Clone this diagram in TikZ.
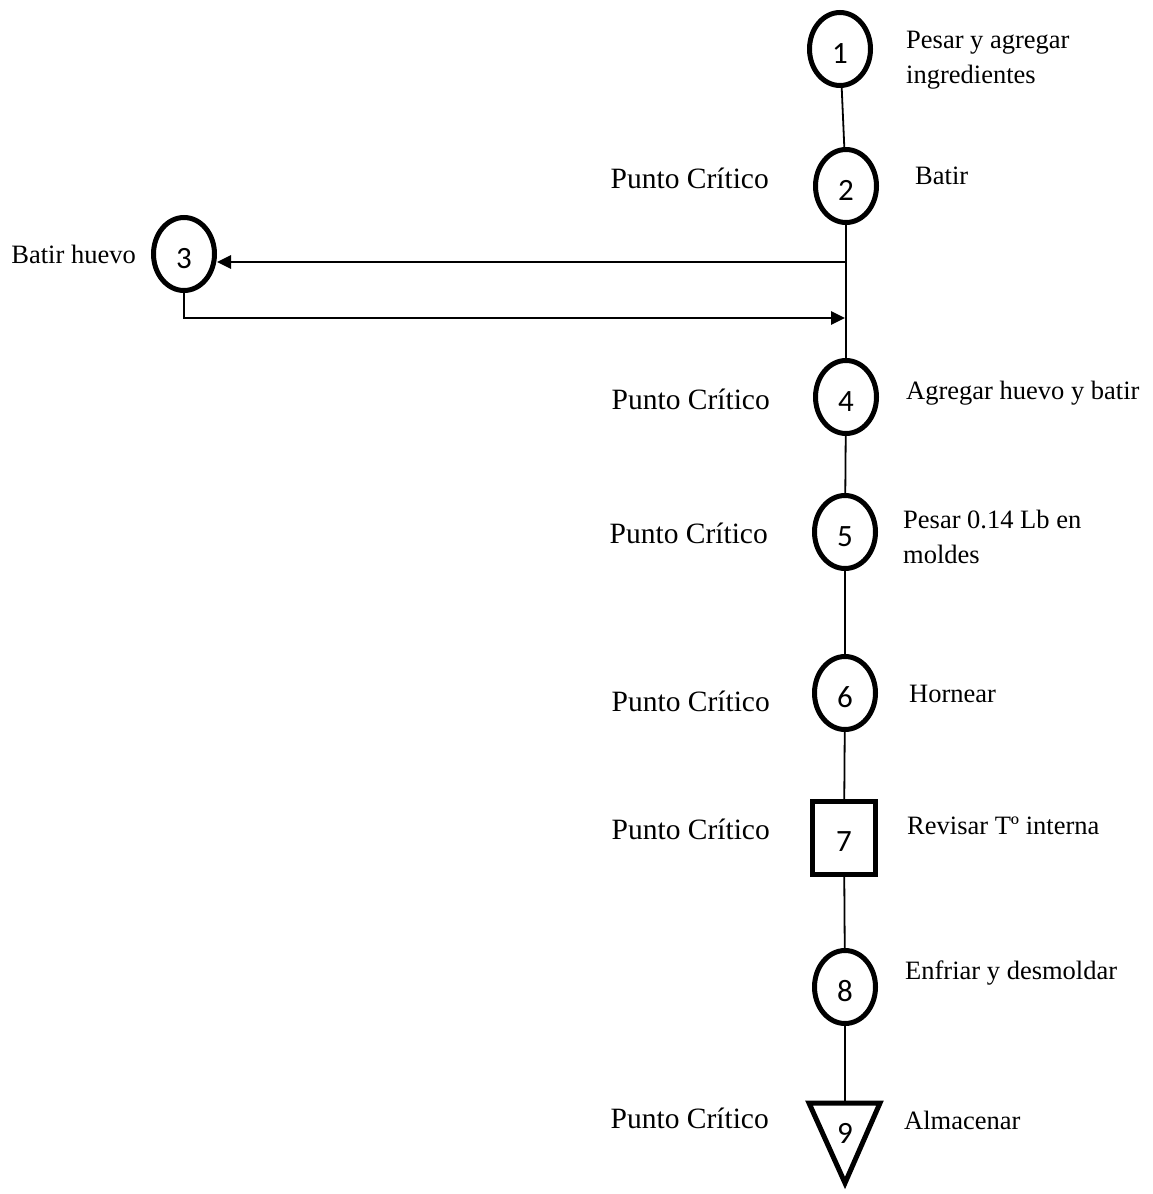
\documentclass[tikz,border=0pt]{standalone}
\usepackage{fontspec}
\setmainfont{Liberation Serif}
\newfontfamily\numfont{Carlito}
\usepackage{tikz}
\usetikzlibrary{shapes,arrows.meta,positioning,calc}

\begin{document}
\begin{tikzpicture}[x=1pt, y=-1pt,
    op/.style={draw, ellipse, line width=5pt, minimum width=61pt, minimum height=73pt, inner sep=0pt, text height=29pt, text depth=0pt, font=\numfont\fontsize{31}{34}\selectfont},
    insp/.style={draw, rectangle, line width=5pt, minimum width=63pt, minimum height=73pt, inner sep=0pt, text height=26pt, text depth=0pt, font=\numfont\fontsize{31}{34}\selectfont},
    num/.style={inner sep=0pt, font=\numfont\fontsize{31}{34}\selectfont},
    lbl/.style={anchor=west, align=left, inner sep=0pt, font=\fontsize{26.5}{35}\selectfont},
    pc/.style={anchor=east, inner sep=0pt, font=\fontsize{29.5}{34}\selectfont},
    link/.style={line width=1.8pt},
    flow/.style={line width=2.7pt, -{Triangle[length=14pt, width=13pt]}}]
    \useasboundingbox (0,0) rectangle (1152,1194);

    \node[op] (c1) at (840,49) {1};
    \node[op] (c2) at (846,186) {2};
    \node[op] (c3) at (184,254) {3};
    \node[op] (c4) at (846,397) {4};
    \node[op] (c5) at (845,532) {5};
    \node[op] (c6) at (845,693) {6};
    \node[insp] (c7) at (844,838) {7};
    \node[op] (c8) at (845,987) {8};
    \node[num] (c9) at (845,1133) {9};
    \coordinate (c9top) at (845,1103);
    \draw[line width=5pt] (809,1103) -- (880,1103) -- (845,1183) -- cycle;

    \node[lbl] (t1) at (906,60) {Pesar y agregar\\ingredientes};
    \node[lbl] (t2) at (915,176) {Batir};
    \node[lbl, anchor=east] (t3) at (136,254) {Batir huevo};
    \node[lbl] (t4) at (906,393) {Agregar huevo y batir};
    \node[lbl] (t5) at (903,537) {Pesar 0.14 Lb en\\moldes};
    \node[lbl] (t6) at (909,694) {Hornear};
    \node[lbl] (t7) at (907,826) {Revisar Tº interna};
    \node[lbl] (t8) at (905,973) {Enfriar y desmoldar};
    \node[lbl] (t9) at (904,1120) {Almacenar};

    \node[pc] (p2) at (769,178) {Punto Crítico};
    \node[pc] (p4) at (770,399) {Punto Crítico};
    \node[pc] (p5) at (768,533) {Punto Crítico};
    \node[pc] (p6) at (770,701) {Punto Crítico};
    \node[pc] (p7) at (770,829) {Punto Crítico};
    \node[pc] (p9) at (769,1118) {Punto Crítico};

    \coordinate (split) at (845,262);
    \coordinate (join) at (845,318);

    \draw[link] (c1) -- (c2);
    \draw[link] (c2) -- (c4);
    \draw[link] (c4) -- (c5);
    \draw[link] (c5) -- (c6);
    \draw[link] (c6) -- (c7);
    \draw[link] (c7) -- (c8);
    \draw[link] (c8) -- (c9top);
    \draw[flow] (split) -- (split -| c3.east);
    \draw[flow] (c3.south) |- (join);
\end{tikzpicture}
\end{document}
